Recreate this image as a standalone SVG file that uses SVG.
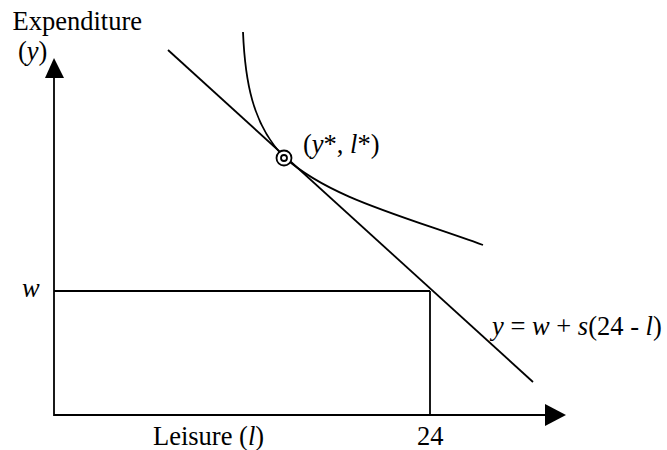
<svg xmlns="http://www.w3.org/2000/svg" width="667" height="450" viewBox="0 0 667 450">
<style>
.ln{stroke:#000;stroke-width:1.8;fill:none}
.t{font-family:"Liberation Serif","Times New Roman",serif;font-size:26.5px;fill:#000}
.i{font-style:italic}
</style>
<rect width="667" height="450" fill="#fff"/>
<g id="axes">
<line class="ln" x1="54" y1="416" x2="54" y2="74"/>
<polygon points="45,78 54,58 64,78" fill="#000"/>
<line class="ln" x1="54" y1="415" x2="550" y2="415"/>
<polygon points="545,404 566,415 545,426" fill="#000"/>
</g>
<g id="connectors">
<line class="ln" x1="54" y1="291" x2="430" y2="291"/>
<line class="ln" x1="430" y1="291" x2="430" y2="415"/>
<line class="ln" x1="168" y1="50" x2="533" y2="382"/>
<path class="ln" d="M243,32 C245,80 252,124 284,157 C330,198 400,215 483,245"/>
</g>
<g id="point">
<circle cx="284" cy="158" r="7.5" fill="#fff" stroke="#000" stroke-width="1.8"/>
<circle cx="284" cy="158" r="3" fill="none" stroke="#000" stroke-width="1.8"/>
</g>
<g id="labels">
<text class="t" x="12.5" y="30">Expenditure</text>
<text class="t" x="18" y="60">(<tspan class="i">y</tspan>)</text>
<text class="t" x="303" y="153">(<tspan class="i">y</tspan>*, <tspan class="i">l</tspan>*)</text>
<text class="t i" x="22" y="297">w</text>
<text class="t" x="492" y="335"><tspan class="i">y</tspan> = <tspan class="i">w</tspan> + <tspan class="i">s</tspan>(24 - <tspan class="i">l</tspan>)</text>
<text class="t" x="153" y="445">Leisure (<tspan class="i">l</tspan>)</text>
<text class="t" x="417" y="445">24</text>
</g>
</svg>
